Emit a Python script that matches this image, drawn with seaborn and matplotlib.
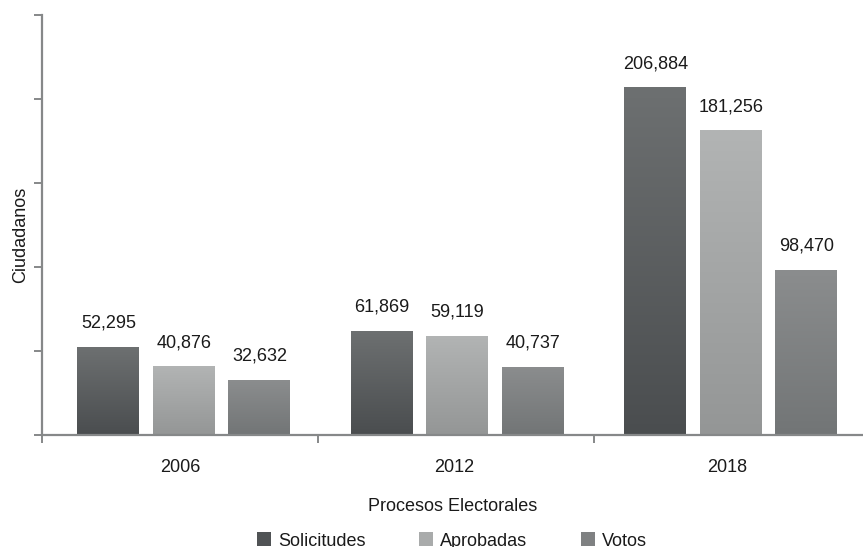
import numpy as np
import pandas as pd
import matplotlib
matplotlib.use("Agg")
import matplotlib.pyplot as plt
import seaborn as sns
from matplotlib.colors import LinearSegmentedColormap
from matplotlib.patches import Patch
from matplotlib.ticker import FixedLocator, NullFormatter

years = ["2006", "2012", "2018"]
series = ["Solicitudes", "Aprobadas", "Votos"]
solicitudes = [52295, 61869, 206884]
aprobadas = [40876, 59119, 181256]
votos = [32632, 40737, 98470]

# gradient end colours (top, bottom) for each series
grad_colors = {
    "Solicitudes": ("#6d7071", "#4a4d4f"),
    "Aprobadas": ("#b2b4b4", "#949696"),
    "Votos": ("#8b8d8e", "#727576"),
}
flat_colors = {"Solicitudes": "#505355", "Aprobadas": "#a9abab", "Votos": "#7f8182"}

df = pd.DataFrame({
    "Proceso": years * 3,
    "Serie": [s for s in series for _ in years],
    "Ciudadanos": solicitudes + aprobadas + votos,
})

sns.set_theme(style="white")
plt.rcParams["font.family"] = ["Liberation Sans", "DejaVu Sans"]
FS = 13
TXT = "#1a1a1a"

W, H = 863, 547
fig = plt.figure(figsize=(W / 100, H / 100), dpi=100)
ax = fig.add_axes([42 / W, 112 / H, 821 / W, 420 / H])

XMIN, XMAX = -0.519, 2.483

sns.barplot(data=df, x="Proceso", y="Ciudadanos", hue="Serie",
            hue_order=series, palette=flat_colors, width=0.828, gap=0.179,
            legend=False, ax=ax)

ax.set_xlim(XMIN, XMAX)
ax.set_ylim(0, 250000)

# vertical gradient fill clipped to each bar
grad = np.linspace(0, 1, 256).reshape(-1, 1)
for container, name in zip(ax.containers, series):
    top, bottom = grad_colors[name]
    cmap = LinearSegmentedColormap.from_list(name, [bottom, top])
    for bar, val in zip(container, container.datavalues):
        x0 = bar.get_x()
        w = bar.get_width()
        h = bar.get_height()
        bar.set_facecolor("none")
        bar.set_edgecolor("none")
        im = ax.imshow(grad, cmap=cmap, origin="lower", aspect="auto",
                       extent=(x0, x0 + w, 0, h), zorder=bar.get_zorder())
        im.set_clip_path(bar)
        ax.annotate(f"{int(val):,}", (x0 + w / 2, h), xytext=(0, 11),
                    textcoords="offset points", ha="center", va="bottom",
                    fontsize=FS, color=TXT)

ax.set_xlim(XMIN, XMAX)
ax.set_ylim(0, 250000)

axis_color = "#868889"
for side in ["top", "right"]:
    ax.spines[side].set_visible(False)
for side in ["left", "bottom"]:
    ax.spines[side].set_color(axis_color)
    ax.spines[side].set_linewidth(1.6)

ax.set_yticks(np.arange(0, 250001, 50000))
ax.yaxis.set_major_formatter(NullFormatter())
ax.tick_params(axis="y", which="major", length=6, width=1.4, color=axis_color,
               direction="out", left=True)
ax.set_xticks([-0.012, 0.988, 1.988], years)
ax.tick_params(axis="x", which="major", length=0, labelsize=FS,
               labelcolor=TXT, pad=17)
ax.xaxis.set_minor_locator(FixedLocator([XMIN, 0.490, 1.499]))
ax.tick_params(axis="x", which="minor", length=6, width=1.4, color=axis_color,
               direction="out", bottom=True)

ax.set_xlabel("Procesos Electorales", fontsize=FS, color=TXT, labelpad=16)
ax.set_ylabel("Ciudadanos", fontsize=FS, color=TXT)
ax.yaxis.set_label_coords(-13 / 821, 0.476)
ax.grid(False)

# legend entries spaced evenly along the bottom
for name, xpos in zip(series, [257, 419, 581]):
    fig.legend([Patch(facecolor=flat_colors[name], edgecolor="none")], [name],
               loc="center left", bbox_to_anchor=(xpos / W, 1 - 541 / H),
               frameon=False, fontsize=FS, handlelength=0.8, handleheight=0.8,
               handletextpad=0.35, borderpad=0, borderaxespad=0,
               labelcolor=TXT)

fig.savefig("out.png", dpi=100)
